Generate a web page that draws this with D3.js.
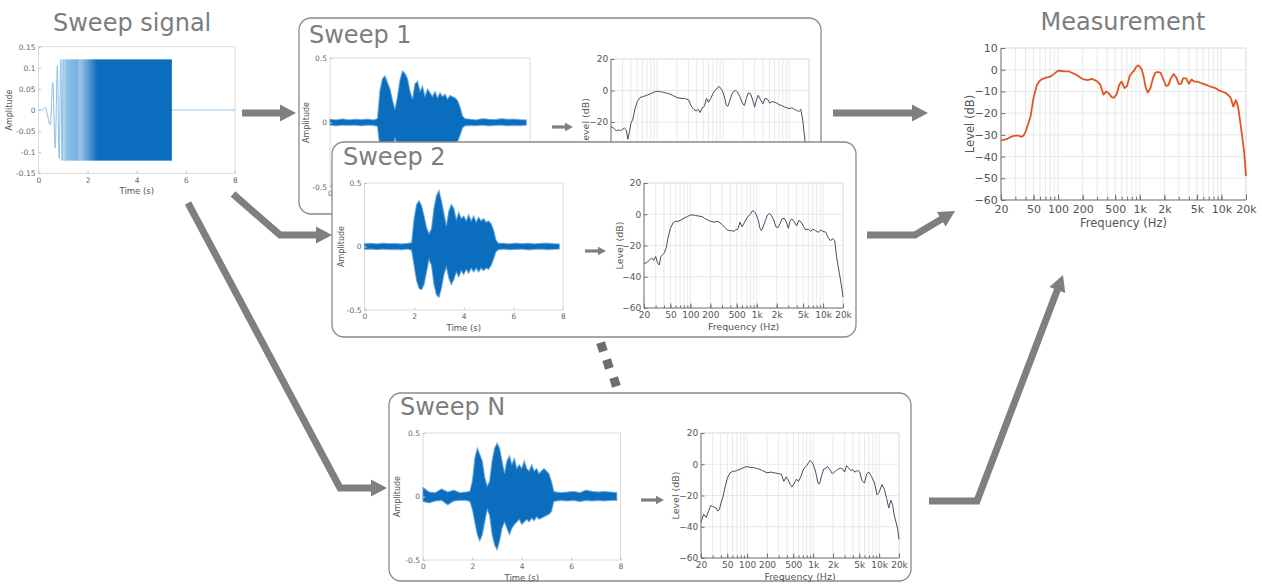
<!DOCTYPE html>
<html>
<head>
<meta charset="utf-8">
<script src="https://cdn.jsdelivr.net/npm/d3@7"></script>
<style>
  body { margin: 0; background: #fff; }
  svg { display: block; font-family: "DejaVu Sans", Verdana, sans-serif; }
</style>
</head>
<body>
<svg id="chart" width="1262" height="584"></svg>
<script>
// ---------- data ----------
const timeTicks = [0, 2, 4, 6, 8];
const ampTicks = [-0.5, 0, 0.5];
const ampLabels = ["-0.5", "0", "0.5"];
const sigTicks = [-0.15, -0.1, -0.05, 0, 0.05, 0.1, 0.15];
const sigLabels = ["-0.15", "-0.1", "-0.05", "0", "0.05", "0.1", "0.15"];

// sweep signal: first few cycles (time s, amplitude), then the dense part
const chirpT = [0, 0.14, 0.27, 0.48, 0.58, 0.68, 0.77, 0.84, 0.91, 0.96, 1.0];
const chirpA = [0, 0, 0.006, -0.035, 0.065, -0.09, 0.105, -0.115, 0.12, -0.12, 0.12];
const chirpCycles = [1.04, 1.09, 1.14, 1.18, 1.22, 1.26, 1.3, 1.34, 1.38, 1.42, 1.46, 1.5, 1.55, 1.6];
const sweepAmp = 0.12;
const sweepEnd = 5.43;

// recorded waveforms: envelope (upper / lower) over time
const waveTime = [0, 0.25, 0.5, 0.75, 1, 1.25, 1.5, 1.75,
  1.9, 2.0, 2.1, 2.2, 2.3, 2.4, 2.5, 2.6, 2.7, 2.8, 2.9, 3.0, 3.1, 3.2, 3.3, 3.4, 3.5, 3.6, 3.7, 3.8,
  3.9, 4.0, 4.1, 4.2, 4.3, 4.4, 4.5, 4.6, 4.7, 4.8, 4.9, 5.0, 5.1, 5.2, 5.3, 5.4,
  5.6, 5.85, 6.1, 6.35, 6.6, 6.85, 7.1, 7.35, 7.6, 7.85];

const wave1Up = [0.025, 0.02, 0.028, 0.02, 0.025, 0.022, 0.026, 0.02,
  0.03, 0.25, 0.34, 0.36, 0.31, 0.26, 0.17, 0.1, 0.2, 0.33, 0.4, 0.38, 0.34, 0.24, 0.18, 0.3, 0.32, 0.24, 0.28, 0.2,
  0.26, 0.23, 0.2, 0.24, 0.19, 0.23, 0.2, 0.22, 0.18, 0.21, 0.2, 0.19, 0.17, 0.12, 0.05, 0.03,
  0.025, 0.02, 0.03, 0.025, 0.022, 0.03, 0.025, 0.026, 0.022, 0.02];
const wave1Lo = [-0.02, -0.025, -0.02, -0.022, -0.02, -0.025, -0.02, -0.022,
  -0.03, -0.2, -0.3, -0.33, -0.33, -0.28, -0.2, -0.12, -0.18, -0.3, -0.37, -0.38, -0.3, -0.22, -0.17, -0.25, -0.28, -0.24, -0.22, -0.2,
  -0.22, -0.19, -0.2, -0.18, -0.2, -0.17, -0.19, -0.17, -0.18, -0.17, -0.18, -0.16, -0.15, -0.1, -0.04, -0.025,
  -0.022, -0.025, -0.02, -0.026, -0.022, -0.02, -0.025, -0.022, -0.024, -0.02];

const wave2Up = [0.022, 0.025, 0.02, 0.026, 0.022, 0.024, 0.02, 0.025,
  0.03, 0.22, 0.33, 0.36, 0.32, 0.24, 0.15, 0.1, 0.14, 0.3, 0.4, 0.44, 0.36, 0.26, 0.16, 0.28, 0.33, 0.3, 0.21, 0.27,
  0.22, 0.24, 0.2, 0.25, 0.2, 0.24, 0.19, 0.23, 0.2, 0.22, 0.19, 0.2, 0.18, 0.13, 0.05, 0.025,
  0.025, 0.02, 0.026, 0.022, 0.025, 0.02, 0.024, 0.026, 0.022, 0.02];
const wave2Lo = [-0.022, -0.02, -0.025, -0.02, -0.024, -0.022, -0.025, -0.02,
  -0.03, -0.15, -0.27, -0.33, -0.34, -0.3, -0.2, -0.1, -0.15, -0.3, -0.38, -0.4, -0.33, -0.22, -0.16, -0.25, -0.3, -0.26, -0.2, -0.24,
  -0.19, -0.22, -0.18, -0.21, -0.17, -0.2, -0.17, -0.2, -0.17, -0.19, -0.17, -0.18, -0.15, -0.1, -0.04, -0.025,
  -0.02, -0.025, -0.022, -0.02, -0.026, -0.022, -0.02, -0.024, -0.022, -0.02];

const waveNUp = [0.07, 0.035, 0.03, 0.06, 0.035, 0.05, 0.03, 0.035,
  0.04, 0.12, 0.3, 0.38, 0.33, 0.28, 0.15, 0.08, 0.12, 0.28, 0.38, 0.42, 0.38, 0.28, 0.18, 0.28, 0.32, 0.25, 0.3, 0.22,
  0.25, 0.22, 0.28, 0.22, 0.2, 0.25, 0.2, 0.22, 0.18, 0.2, 0.22, 0.2, 0.18, 0.12, 0.04, 0.035,
  0.03, 0.035, 0.04, 0.03, 0.05, 0.04, 0.035, 0.04, 0.035, 0.03];
const waveNLo = [-0.04, -0.05, -0.035, -0.03, -0.065, -0.035, -0.03, -0.03,
  -0.04, -0.1, -0.2, -0.3, -0.35, -0.3, -0.2, -0.1, -0.15, -0.3, -0.38, -0.42, -0.35, -0.25, -0.2, -0.25, -0.3, -0.25, -0.22, -0.2,
  -0.18, -0.22, -0.2, -0.18, -0.2, -0.17, -0.19, -0.16, -0.18, -0.17, -0.16, -0.15, -0.14, -0.12, -0.04, -0.035,
  -0.03, -0.035, -0.03, -0.04, -0.03, -0.035, -0.03, -0.035, -0.03, -0.03];

// spectra (Hz, dB)
const freqTicks = [20, 50, 100, 200, 500, 1000, 2000, 5000, 10000, 20000];
const freqLabels = ["20", "50", "100", "200", "500", "1k", "2k", "5k", "10k", "20k"];
const levelTicks = [-60, -40, -20, 0, 20];
const measTicks = [-60, -50, -40, -30, -20, -10, 0, 10];

const specFreq = [20, 22, 24, 26, 28, 30, 32, 34, 36, 38,
  40, 43, 46, 50, 55, 60, 65, 70, 80, 90,
  100, 110, 120, 135, 150, 170, 200, 230, 260, 300,
  330, 360, 390, 420, 450, 480, 520, 560, 600, 650,
  700, 750, 800, 850, 900, 950, 1000, 1060, 1120, 1180,
  1250, 1350, 1450, 1550, 1650, 1800, 1950, 2100, 2250, 2400,
  2600, 2800, 3000, 3200, 3400, 3700, 4000, 4300, 4700, 5100,
  5500, 6000, 6500, 7000, 7700, 8500, 9300, 10000, 11000, 12000,
  13000, 14000, 15000, 16000, 17000, 18000, 19000, 20000];

const level1 = [-23, -24, -25.5, -25, -25.5, -24.5, -24, -25, -31, -26,
  -21, -18, -12, -7, -4.5, -4, -3.5, -3, -2, -1,
  -0.5, -0.8, -1, -1.5, -2, -3, -4.5, -5, -5, -6,
  -10, -12, -13, -12, -14, -11, -10, -5, -7.5, -5,
  -2, 0, 1, 2.5, 2, 0.5, -1.5, -5, -9.5, -10,
  -7, -2.5, -0.5, 0, -1, -4, -8, -9.5, -5, -1.5,
  -2, -6, -10.5, -6, -3, -6, -8.5, -5, -5.5, -8,
  -7, -7.5, -8, -9, -9.5, -10.5, -11, -11.5, -11, -12,
  -12.5, -13.5, -12, -18, -28, -38, -48, -56];

const level2 = [-31.5, -31, -29.5, -28, -29.5, -27, -31, -32.5, -27, -26,
  -25, -22, -15, -9, -5.5, -4.5, -4.5, -4, -2.5, -1.5,
  -0.5, -0.5, -0.8, -1.2, -1.5, -3, -4.5, -5, -4.5, -6.5,
  -8.5, -10, -10.5, -10.5, -11, -10, -9.5, -5, -8, -5.5,
  -3, -1, 0, 2, 2, 1, -1, -4, -9, -10.5,
  -8, -4, -0.5, 0.5, -0.5, -3.5, -8, -8.5, -6, -3,
  -2.5, -5, -9, -4, -3, -5, -7.5, -4, -5, -8,
  -10, -9.5, -11, -9.5, -10.5, -11.5, -10, -11, -11.5, -15,
  -17, -15.5, -17, -27, -34, -40, -46, -53];

const levelN = [-37, -32, -34, -30, -26.5, -27, -27.5, -28, -30, -29,
  -25, -21, -15, -9, -5.5, -4.5, -4.5, -4, -3, -2,
  -1.5, -2, -2, -2.5, -3, -4, -5.5, -5, -5.5, -6,
  -6.5, -11, -8, -10, -13, -14.5, -12, -9.5, -11, -8,
  -4, -2, -1, 1, 2.5, 1.5, 0, -3, -7, -12,
  -12.5, -7, -3, -2.5, -1.5, -3.5, -6, -5, -4, -3,
  -2.5, -3, -5, -1, -2, -4, -3.5, -5, -4, -5,
  -10.5, -12, -6, -5, -8, -12, -19.5, -18, -13, -16,
  -22, -28, -23, -26, -33, -37, -41, -48];

const levelMeas = [-32.6, -32.2, -31.8, -31, -30.6, -30.4, -30.3, -30.6, -30.9, -30.2,
  -28.5, -25, -21.5, -13, -7, -5, -4.2, -3.8, -3.2, -1.8,
  -0.4, -0.6, -0.8, -0.8, -1.5, -2.5, -4.3, -4.8, -4.2, -5.3,
  -7, -11.5, -10, -11, -12.5, -13, -11.5, -7, -5.5, -8.5,
  -7.5, -3, -1.5, -0.5, 1.2, 2, 1.5, 0, -3.5, -8,
  -10.5, -8.5, -4, -1.5, -1, -1.5, -4.5, -7.5, -7, -4,
  -2, -3.5, -6.5, -6.5, -4, -4, -6.5, -4.5, -5.5, -5.5,
  -6, -6.5, -7, -7.5, -8, -8.5, -9.5, -10, -10.5, -11.5,
  -13, -17, -14, -17, -24, -31, -38, -49];

// ---------- drawing ----------
const svg = d3.select("#chart");
const ARROW = "#7f7f7f";
const TITLE = "#7d7d7d";
const BLUE = "#0b6dbd";

function styleAxis(sel, lineColor, fontSize, textColor) {
  sel.attr("font-family", null).attr("font-size", fontSize);
  sel.select(".domain").remove();
  sel.selectAll(".tick line").attr("stroke", lineColor);
  sel.selectAll(".tick text").attr("fill", textColor);
}

function title(txt, x, y, anchor) {
  svg.append("text").attr("x", x).attr("y", y).attr("text-anchor", anchor || "start")
    .attr("font-size", 24).attr("fill", TITLE).text(txt);
}

function box(x, y, w, h) {
  svg.append("rect").attr("x", x).attr("y", y).attr("width", w).attr("height", h)
    .attr("rx", 12).attr("fill", "#fff").attr("stroke", "#8a8a8a").attr("stroke-width", 1.3);
}

// time-domain axes; returns scales and a layer for the plot
function timeAxes(b, yDomain, yTicks, yLabels) {
  const x = d3.scaleLinear().domain([0, 8]).range([b.x0, b.x1]);
  const y = d3.scaleLinear().domain(yDomain).range([b.y1, b.y0]);
  const g = svg.append("g");
  g.append("rect").attr("x", b.x0).attr("y", b.y0).attr("width", b.x1 - b.x0).attr("height", b.y1 - b.y0)
    .attr("fill", "#fff").attr("stroke", "#d2d2d2").attr("stroke-width", 0.8);
  const layer = g.append("g");
  const ax = g.append("g").attr("transform", `translate(0,${b.y1})`)
    .call(d3.axisBottom(x).tickValues(timeTicks).tickSize(-2.5).tickPadding(4));
  styleAxis(ax, "#c4c4c4", 7.5, "#666");
  const ay = g.append("g").attr("transform", `translate(${b.x0},0)`)
    .call(d3.axisLeft(y).tickValues(yTicks).tickFormat((d, i) => yLabels[i]).tickSize(-2.5).tickPadding(3));
  styleAxis(ay, "#c4c4c4", 7.5, "#666");
  g.append("text").attr("x", (b.x0 + b.x1) / 2).attr("y", b.y1 + 21).attr("text-anchor", "middle")
    .attr("font-size", 8.5).attr("fill", "#555").text("Time (s)");
  g.append("text").attr("transform", `translate(${b.labelX},${(b.y0 + b.y1) / 2}) rotate(-90)`)
    .attr("text-anchor", "middle").attr("font-size", 8).attr("fill", "#555").text("Amplitude");
  return { x, y, layer };
}

function waveform(b, up, lo) {
  const { x, y, layer } = timeAxes(b, [-0.5, 0.5], ampTicks, ampLabels);
  const area = d3.area().x((d, i) => x(waveTime[i])).y0((d, i) => y(lo[i])).y1(d => y(d));
  layer.append("path").datum(up).attr("d", area).attr("fill", BLUE)
    .attr("stroke", "#5b9fd8").attr("stroke-width", 1.2).attr("stroke-opacity", 0.7);
}

function spectrum(b, yDomain, yTicks, levels, opt) {
  const x = d3.scaleLog().domain([20, 20000]).range([b.x0, b.x1]);
  const y = d3.scaleLinear().domain(yDomain).range([b.y1, b.y0]);
  const g = svg.append("g");
  g.append("rect").attr("x", b.x0).attr("y", b.y0).attr("width", b.x1 - b.x0).attr("height", b.y1 - b.y0)
    .attr("fill", "#fff").attr("stroke", "#dcdcdc").attr("stroke-width", 0.8);
  // grid
  g.append("g").selectAll("line").data(x.ticks()).join("line")
    .attr("x1", d => x(d)).attr("x2", d => x(d)).attr("y1", b.y0).attr("y2", b.y1)
    .attr("stroke", "#e3e3e3").attr("stroke-width", 0.8);
  g.append("g").selectAll("line").data(yTicks).join("line")
    .attr("x1", b.x0).attr("x2", b.x1).attr("y1", d => y(d)).attr("y2", d => y(d))
    .attr("stroke", "#e3e3e3").attr("stroke-width", 0.8);
  // curve
  const line = d3.line().x((d, i) => x(specFreq[i])).y(d => y(d));
  g.append("path").datum(levels).attr("d", line).attr("fill", "none")
    .attr("stroke", opt.color).attr("stroke-width", opt.width).attr("stroke-linejoin", "round");
  // axes
  g.append("line").attr("x1", b.x0).attr("x2", b.x0).attr("y1", b.y0).attr("y2", b.y1).attr("stroke", "#707070").attr("stroke-width", 0.9);
  g.append("line").attr("x1", b.x0).attr("x2", b.x1).attr("y1", b.y1).attr("y2", b.y1).attr("stroke", "#707070").attr("stroke-width", 0.9);
  const minor = g.append("g").attr("transform", `translate(0,${b.y1})`)
    .call(d3.axisBottom(x).tickValues(x.ticks()).tickFormat("").tickSize(-opt.fs * 0.3));
  styleAxis(minor, "#707070", opt.fs, "#555");
  const ax = g.append("g").attr("transform", `translate(0,${b.y1})`)
    .call(d3.axisBottom(x).tickValues(freqTicks).tickFormat((d, i) => freqLabels[i]).tickSize(-opt.fs * 0.5).tickPadding(opt.fs * 0.45));
  styleAxis(ax, "#707070", opt.fs, "#555");
  const ay = g.append("g").attr("transform", `translate(${b.x0},0)`)
    .call(d3.axisLeft(y).tickValues(yTicks).tickSize(-opt.fs * 0.4).tickPadding(opt.fs * 0.3));
  styleAxis(ay, "#707070", opt.fs, "#555");
  g.append("text").attr("x", (b.x0 + b.x1) / 2).attr("y", b.y1 + opt.fs * 2.45).attr("text-anchor", "middle")
    .attr("font-size", opt.fs * 1.05).attr("fill", "#555").text("Frequency (Hz)");
  g.append("text").attr("transform", `translate(${b.labelX},${(b.y0 + b.y1) / 2}) rotate(-90)`)
    .attr("text-anchor", "middle").attr("font-size", opt.fs * 1.05).attr("fill", "#555").text("Level (dB)");
}

function arrow(pts, w, headLen, headHalf) {
  const n = pts.length;
  const [xa, ya] = pts[n - 2], [xb, yb] = pts[n - 1];
  const L = Math.hypot(xb - xa, yb - ya), ux = (xb - xa) / L, uy = (yb - ya) / L;
  const bx = xb - ux * headLen, by = yb - uy * headLen;
  const shaft = pts.slice(0, -1).concat([[bx + ux, by + uy]]);
  svg.append("path").attr("d", d3.line()(shaft)).attr("fill", "none")
    .attr("stroke", ARROW).attr("stroke-width", w).attr("stroke-linejoin", "miter");
  svg.append("path").attr("d", d3.line()([[xb, yb], [bx - uy * headHalf, by + ux * headHalf], [bx + uy * headHalf, by - ux * headHalf]]) + "Z")
    .attr("fill", ARROW);
}

// --- Sweep signal ---
title("Sweep signal", 53, 31);
{
  const b = { x0: 38.5, x1: 235, y0: 46.7, y1: 173.3, labelX: 12 };
  const { x, y, layer } = timeAxes(b, [-0.15, 0.15], sigTicks, sigLabels);
  const grad = svg.append("defs").append("linearGradient").attr("id", "sweepGrad")
    .attr("gradientUnits", "userSpaceOnUse").attr("x1", x(0.95)).attr("x2", x(2.4)).attr("y1", 0).attr("y2", 0);
  grad.append("stop").attr("offset", 0).attr("stop-color", BLUE).attr("stop-opacity", 0.12);
  grad.append("stop").attr("offset", 0.55).attr("stop-color", BLUE).attr("stop-opacity", 0.45);
  grad.append("stop").attr("offset", 1).attr("stop-color", BLUE).attr("stop-opacity", 1);
  layer.append("line").attr("x1", x(sweepEnd)).attr("x2", x(8)).attr("y1", y(0)).attr("y2", y(0))
    .attr("stroke", "#7fb6e4").attr("stroke-width", 0.8);
  layer.append("path").datum(chirpA)
    .attr("d", d3.line().x((d, i) => x(chirpT[i])).y(d => y(d)).curve(d3.curveMonotoneX))
    .attr("fill", "none").attr("stroke", "#8cc0ea").attr("stroke-width", 1);
  layer.selectAll(".cyc").data(chirpCycles).join("line")
    .attr("x1", d => x(d)).attr("x2", d => x(d)).attr("y1", y(sweepAmp)).attr("y2", y(-sweepAmp))
    .attr("stroke", "#9ccaee").attr("stroke-width", 0.8);
  layer.append("rect").attr("x", x(0.97)).attr("y", y(sweepAmp)).attr("width", x(sweepEnd) - x(0.97))
    .attr("height", y(-sweepAmp) - y(sweepAmp)).attr("fill", "url(#sweepGrad)");
}

// --- Sweep 1 ---
box(299, 18, 522, 196);
title("Sweep 1", 309, 43);
waveform({ x0: 330, x1: 530, y0: 58, y1: 187, labelX: 309 }, wave1Up, wave1Lo);
spectrum({ x0: 611, x1: 809, y0: 59, y1: 185, labelX: 589 }, [-60, 20], levelTicks, level1,
  { color: "#4a4a68", width: 1, fs: 9 });
arrow([[552, 127], [573, 127]], 3.2, 8, 4.2);

// --- Sweep 2 ---
box(332, 142, 524, 195);
title("Sweep 2", 343, 165);
waveform({ x0: 364.5, x1: 563, y0: 183, y1: 310, labelX: 343.5 }, wave2Up, wave2Lo);
spectrum({ x0: 644, x1: 843, y0: 183, y1: 308, labelX: 623 }, [-60, 20], levelTicks, level2,
  { color: "#4a4a68", width: 1, fs: 9 });
arrow([[585, 251], [606, 251]], 3.2, 8, 4.2);

// --- Sweep N ---
box(389, 393, 522, 188);
title("Sweep N", 400, 415);
waveform({ x0: 423, x1: 620.5, y0: 433, y1: 560, labelX: 400 }, waveNUp, waveNLo);
spectrum({ x0: 701, x1: 899, y0: 433, y1: 558, labelX: 679 }, [-60, 20], levelTicks, levelN,
  { color: "#4a4a68", width: 1, fs: 9 });
arrow([[641, 500], [664, 500]], 3.2, 8, 4.2);

// --- Measurement ---
title("Measurement", 1123, 30, "middle");
spectrum({ x0: 1001, x1: 1246, y0: 48, y1: 200, labelX: 974 }, [-60, 10], measTicks, levelMeas,
  { color: "#e2561f", width: 1.8, fs: 11 });

// --- flow arrows ---
arrow([[242, 113], [296, 113]], 7, 16, 8.5);
arrow([[233, 194], [280, 235], [332, 235]], 7, 16, 8.5);
arrow([[188, 203], [340, 488], [387, 488]], 7, 16, 8.5);
arrow([[833, 113], [928, 113]], 7, 16, 8.5);
arrow([[867, 235], [915, 235], [955, 211]], 7, 16, 8.5);
arrow([[929, 501], [977, 501], [1063, 275]], 7, 16, 8.5);

// dots between Sweep 2 and Sweep N
svg.selectAll(".dot").data([[602, 347], [608, 364], [615, 382]]).join("rect")
  .attr("x", -4.5).attr("y", -4.5).attr("width", 9).attr("height", 9)
  .attr("transform", d => `translate(${d[0]},${d[1]}) rotate(-18)`).attr("fill", "#6e6e6e");
</script>
</body>
</html>
